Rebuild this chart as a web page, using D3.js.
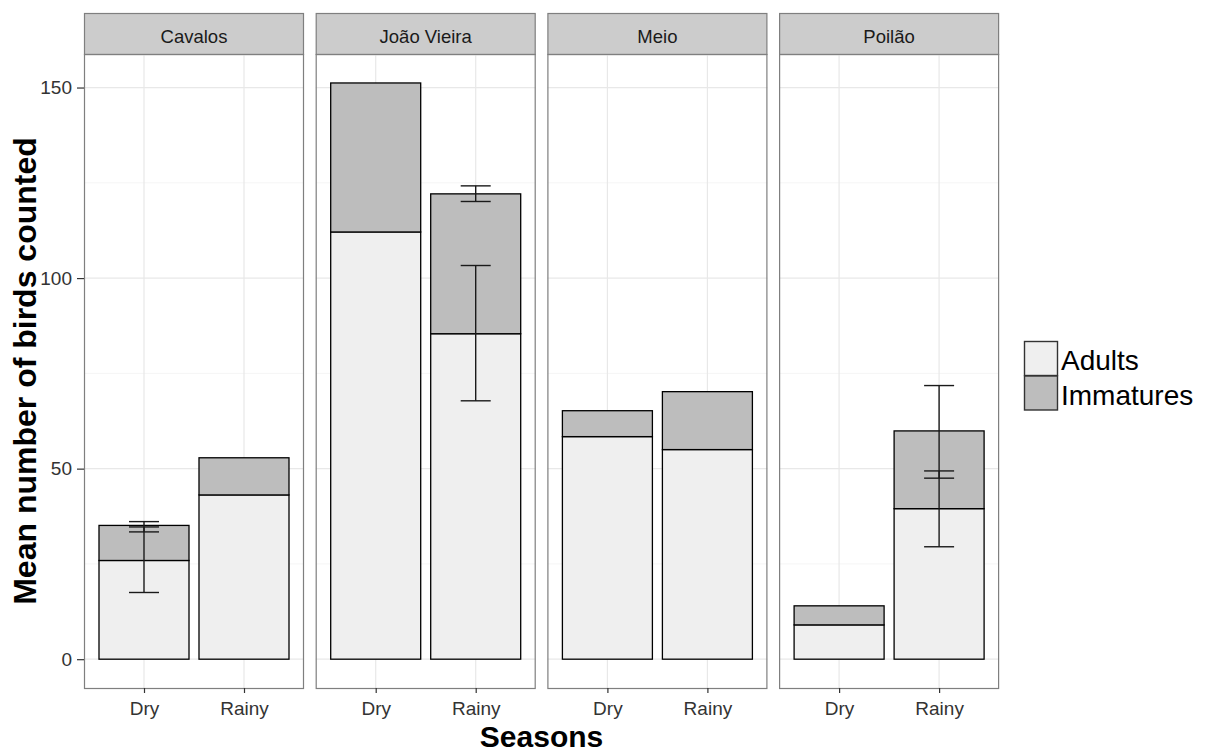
<!DOCTYPE html>
<html>
<head>
<meta charset="utf-8">
<script src="https://cdn.jsdelivr.net/npm/d3@7"></script>
<style>
  body { margin: 0; background: #fff; }
  svg text { font-family: "Liberation Sans", Arial, sans-serif; }
</style>
</head>
<body>
<div id="chart"></div>
<script>
// data
const sites = ["Cavalos", "João Vieira", "Meio", "Poilão"]
const seasons = ["Dry", "Rainy"]
const stages = ["Adults", "Immatures"]
const adultMeans = [[25.9, 43.1], [112.1, 85.4], [58.4, 55.0], [9.0, 39.5]]
const immatureMeans = [[9.2, 9.75], [39.1, 36.7], [6.8, 15.2], [5.0, 20.4]]
// error bars, in stacked units: [low, high] or null
const adultErr = [[[17.5, 34.7], null], [null, [67.8, 103.3]], [null, null], [null, [29.5, 49.4]]]
const immatureErr = [[[33.4, 36.1], null], [null, [120.1, 124.2]], [null, null], [null, [47.5, 71.8]]]
const yTicks = [0, 50, 100, 150]
const yMinor = [25, 75, 125]

const W = 1206, H = 752
const MARGIN = { TOP: 13, LEFT: 84, RIGHT: 999.1, BOTTOM: 688 }
const STRIP_H = 41
const PANEL_TOP = MARGIN.TOP + STRIP_H
const fills = { Adults: "#efefef", Immatures: "#bdbdbd" }

const svg = d3.select("#chart").append("svg")
    .attr("width", W)
    .attr("height", H)

const fx = d3.scaleBand()
    .domain(sites)
    .range([MARGIN.LEFT, MARGIN.RIGHT])
    .paddingInner(0.0505)
    .paddingOuter(0)

const pw = fx.bandwidth()

const x = d3.scalePoint()
    .domain(seasons)
    .range([0, pw])
    .padding(0.6)
const step = x.step()

const y = d3.scaleLinear()
    .domain([-7.56, 158.8])
    .range([MARGIN.BOTTOM, PANEL_TOP])

sites.forEach((site, si) => {
    const g = svg.append("g").attr("transform", `translate(${fx(site)},0)`)

    // strip
    g.append("rect")
        .attr("x", 0.5).attr("y", MARGIN.TOP + 0.5)
        .attr("width", pw - 1).attr("height", STRIP_H)
        .attr("fill", "#cccccc").attr("stroke", "#7f7f7f").attr("stroke-width", 1.2)
    g.append("text")
        .attr("x", pw / 2).attr("y", MARGIN.TOP + 30)
        .attr("text-anchor", "middle")
        .attr("font-size", 18.5).attr("fill", "#1a1a1a")
        .text(site)

    // grid
    g.selectAll(".minor").data(yMinor).enter().append("line")
        .attr("x1", 0).attr("x2", pw)
        .attr("y1", d => y(d)).attr("y2", d => y(d))
        .attr("stroke", "#f5f5f5").attr("stroke-width", 1)
    g.selectAll(".majorY").data(yTicks).enter().append("line")
        .attr("x1", 0).attr("x2", pw)
        .attr("y1", d => y(d)).attr("y2", d => y(d))
        .attr("stroke", "#e8e8e8").attr("stroke-width", 1.2)
    g.selectAll(".majorX").data(seasons).enter().append("line")
        .attr("x1", d => x(d)).attr("x2", d => x(d))
        .attr("y1", PANEL_TOP).attr("y2", MARGIN.BOTTOM)
        .attr("stroke", "#e8e8e8").attr("stroke-width", 1.2)

    // stacked bars
    seasons.forEach((s, j) => {
        const a = adultMeans[si][j]
        const im = immatureMeans[si][j]
        const bx = x(s) - step * 0.45
        const bw = step * 0.9
        g.append("rect")
            .attr("x", bx).attr("width", bw)
            .attr("y", y(a)).attr("height", y(0) - y(a))
            .attr("fill", fills.Adults).attr("stroke", "#000").attr("stroke-width", 1.3)
        g.append("rect")
            .attr("x", bx).attr("width", bw)
            .attr("y", y(a + im)).attr("height", y(a) - y(a + im))
            .attr("fill", fills.Immatures).attr("stroke", "#000").attr("stroke-width", 1.3)
    })

    // error bars
    seasons.forEach((s, j) => {
        [adultErr[si][j], immatureErr[si][j]].forEach(e => {
            if (!e) return
            const cx = x(s), hw = step * 0.15
            const eg = g.append("g").attr("stroke", "#1a1a1a").attr("stroke-width", 1.4)
            eg.append("line").attr("x1", cx).attr("x2", cx).attr("y1", y(e[0])).attr("y2", y(e[1]))
            eg.append("line").attr("x1", cx - hw).attr("x2", cx + hw).attr("y1", y(e[0])).attr("y2", y(e[0]))
            eg.append("line").attr("x1", cx - hw).attr("x2", cx + hw).attr("y1", y(e[1])).attr("y2", y(e[1]))
        })
    })

    // panel border
    g.append("rect")
        .attr("x", 0.5).attr("y", PANEL_TOP + 0.5)
        .attr("width", pw - 1).attr("height", MARGIN.BOTTOM - PANEL_TOP)
        .attr("fill", "none").attr("stroke", "#7f7f7f").attr("stroke-width", 1.2)

    // x axis
    const xAxis = g.append("g")
        .attr("transform", `translate(0,${MARGIN.BOTTOM})`)
        .call(d3.axisBottom(x).tickSize(5).tickPadding(9))
    xAxis.select(".domain").remove()
    xAxis.selectAll("line").attr("stroke", "#333").attr("stroke-width", 1.2)
    xAxis.selectAll("text").attr("font-size", 19).attr("fill", "#333")
        .style("font-family", "'Liberation Sans', Arial, sans-serif")
})

// y axis
const yAxis = svg.append("g")
    .attr("transform", `translate(${MARGIN.LEFT},0)`)
    .call(d3.axisLeft(y).tickValues(yTicks).tickSize(7).tickPadding(5))
yAxis.select(".domain").remove()
yAxis.selectAll("line").attr("stroke", "#333").attr("stroke-width", 1.2)
yAxis.selectAll("text").attr("font-size", 19).attr("fill", "#333")
    .style("font-family", "'Liberation Sans', Arial, sans-serif")

// axis titles
svg.append("text")
    .attr("x", (MARGIN.LEFT + MARGIN.RIGHT) / 2).attr("y", 747)
    .attr("text-anchor", "middle")
    .attr("font-size", 30).attr("font-weight", "bold")
    .text("Seasons")
svg.append("text")
    .attr("transform", `translate(36,${(PANEL_TOP + MARGIN.BOTTOM) / 2}) rotate(-90)`)
    .attr("text-anchor", "middle")
    .attr("font-size", 32).attr("font-weight", "bold")
    .text("Mean number of birds counted")

// legend
const legend = svg.append("g").attr("transform", "translate(1024,341)")
stages.forEach((st, i) => {
    legend.append("rect")
        .attr("x", 0.5).attr("y", i * 34.5 + 0.5)
        .attr("width", 33).attr("height", 34)
        .attr("fill", fills[st]).attr("stroke", "#333").attr("stroke-width", 1.4)
    legend.append("text")
        .attr("x", 37).attr("y", i * 34.5 + 29)
        .attr("font-size", 28).attr("fill", "#000")
        .text(st)
})
</script>
</body>
</html>
